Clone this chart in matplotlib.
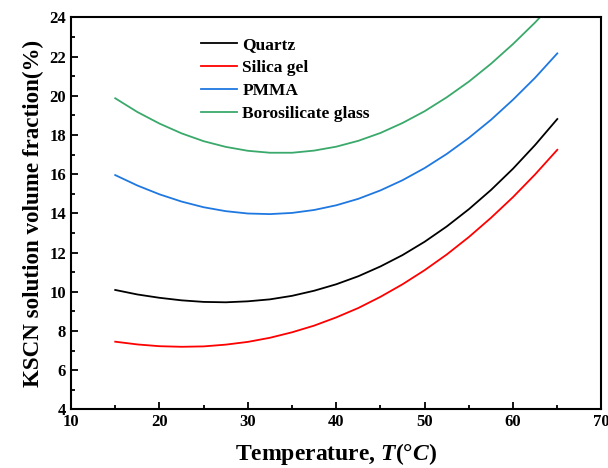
import matplotlib
matplotlib.use('Agg')
import matplotlib.pyplot as plt
from matplotlib.ticker import MultipleLocator

plt.rcParams['font.family'] = 'Liberation Serif'
plt.rcParams['font.weight'] = 'bold'
plt.rcParams['mathtext.fontset'] = 'custom'
plt.rcParams['mathtext.it'] = 'Liberation Serif:italic:bold'
plt.rcParams['mathtext.rm'] = 'Liberation Serif:bold'

# temperature (C)
temp = [15, 17.5, 20, 22.5, 25, 27.5, 30, 32.5, 35, 37.5, 40,
        42.5, 45, 47.5, 50, 52.5, 55, 57.5, 60, 62.5, 65]

# KSCN solution volume fraction (%)
quartz = [10.09, 9.86, 9.69, 9.56, 9.48, 9.46, 9.51, 9.61, 9.79, 10.05, 10.38,
          10.79, 11.29, 11.87, 12.55, 13.33, 14.21, 15.19, 16.28, 17.49, 18.81]
silica = [7.45, 7.31, 7.22, 7.19, 7.21, 7.30, 7.44, 7.65, 7.93, 8.27, 8.69,
          9.17, 9.74, 10.38, 11.10, 11.90, 12.79, 13.77, 14.83, 15.99, 17.24]
pmma = [15.95, 15.42, 14.97, 14.60, 14.31, 14.11, 13.99, 13.96, 14.02, 14.17, 14.41,
        14.74, 15.17, 15.69, 16.31, 17.03, 17.85, 18.77, 19.80, 20.92, 22.16]
boro = [19.87, 19.17, 18.58, 18.08, 17.68, 17.39, 17.19, 17.09, 17.09, 17.20, 17.40,
        17.70, 18.10, 18.61, 19.21, 19.92, 20.72, 21.63, 22.64, 23.74, 24.95]

names = ['Quartz', 'Silica gel', 'PMMA', 'Borosilicate glass']
colors = ['black', '#ff0000', '#1f78e0', '#3aa96b']

fig = plt.figure(figsize=(6.08, 4.68), dpi=100)
ax = fig.add_axes([0.1168, 0.1254, 0.8725, 0.8376])

for ys, nm, c in zip([quartz, silica, pmma, boro], names, colors):
    ax.plot(temp, ys, color=c, lw=1.3, label=nm)

ax.set_xlim(10, 70)
ax.set_ylim(4, 24)
ax.xaxis.set_major_locator(MultipleLocator(10))
ax.xaxis.set_minor_locator(MultipleLocator(5))
ax.yaxis.set_major_locator(MultipleLocator(2))
ax.yaxis.set_minor_locator(MultipleLocator(1))
ax.tick_params(which='both', direction='in', top=False, right=False,
               labelsize=12, width=1.3)
ax.tick_params(which='major', length=5)
ax.tick_params(which='minor', length=3)
for sp in ax.spines.values():
    sp.set_linewidth(1.5)

ax.set_xlabel(r'Temperature, $T$(°$C$)', fontsize=17, fontweight='bold', labelpad=8)
ax.set_ylabel('KSCN solution volume fraction(%)', fontsize=16.6, fontweight='bold', labelpad=4)

leg = ax.legend(loc='upper left', bbox_to_anchor=(0.215, 0.99), frameon=False,
                prop={'size': 12.5, 'weight': 'bold'}, handlelength=2.1,
                handletextpad=0.3, labelspacing=0.4)

fig.savefig('out.png', dpi=100)
